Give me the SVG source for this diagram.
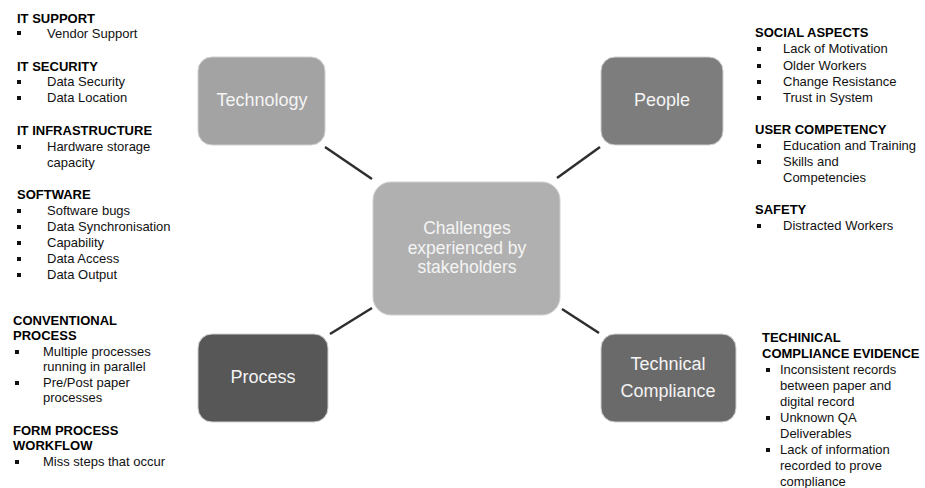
<svg xmlns="http://www.w3.org/2000/svg" width="925" height="488" viewBox="0 0 925 488">
<style>
.bg{fill:#ffffff}
.box{stroke:#d0d0d0;stroke-width:1}
.lbl{font-family:"Liberation Sans",Arial,sans-serif;font-size:18px;fill:#f4f4f4;text-anchor:middle}
.clbl{font-family:"Liberation Sans",Arial,sans-serif;font-size:17.5px;fill:#f4f4f4;text-anchor:middle}
.conn line{stroke:#2e2e2e;stroke-width:2.5}
.h{font-family:"Liberation Sans",Arial,sans-serif;font-size:13px;font-weight:bold;fill:#000}
.t{font-family:"Liberation Sans",Arial,sans-serif;font-size:13px;fill:#111}
.b{fill:#111}
</style>
<defs>
<rect id="bul" width="4" height="4" class="b"/>
</defs>
<rect class="bg" x="0" y="0" width="925" height="488"/>

<g id="connectors" class="conn">
<line x1="325" y1="147" x2="372" y2="179"/>
<line x1="600" y1="147" x2="557" y2="178"/>
<line x1="330" y1="334" x2="372" y2="308"/>
<line x1="562" y1="309" x2="599" y2="333"/>
</g>

<g id="center">
<rect class="box" x="373" y="182" width="187" height="133" rx="18" fill="#b0b0b0"/>
<text class="clbl" x="467" y="234">Challenges</text>
<text class="clbl" x="467" y="254">experienced by</text>
<text class="clbl" x="467" y="273">stakeholders</text>
</g>

<g id="technology">
<rect class="box" x="198" y="57" width="127" height="88" rx="14" fill="#a3a3a3"/>
<text class="lbl" x="262" y="106">Technology</text>
</g>

<g id="people">
<rect class="box" x="601" y="57" width="122" height="88" rx="14" fill="#7d7d7d"/>
<text class="lbl" x="662" y="106">People</text>
</g>

<g id="process">
<rect class="box" x="198" y="334" width="130" height="88" rx="14" fill="#575757"/>
<text class="lbl" x="263" y="383">Process</text>
</g>

<g id="technical-compliance">
<rect class="box" x="601" y="334" width="135" height="88" rx="14" fill="#6a6a6a"/>
<text class="lbl" x="668" y="370">Technical</text>
<text class="lbl" x="668" y="397">Compliance</text>
</g>

<g id="technology-notes">
<text class="h" x="17" y="23">IT SUPPORT</text>
<use href="#bul" x="17" y="31"/><text class="t" x="47" y="38">Vendor Support</text>
<text class="h" x="17" y="71">IT SECURITY</text>
<use href="#bul" x="17" y="80"/><text class="t" x="47" y="86">Data Security</text>
<use href="#bul" x="17" y="96"/><text class="t" x="47" y="102">Data Location</text>
<text class="h" x="17" y="135">IT INFRASTRUCTURE</text>
<use href="#bul" x="17" y="145"/><text class="t" x="47" y="151">Hardware storage</text>
<text class="t" x="47" y="167">capacity</text>
<text class="h" x="17" y="199">SOFTWARE</text>
<use href="#bul" x="17" y="209"/><text class="t" x="47" y="215">Software bugs</text>
<use href="#bul" x="17" y="225"/><text class="t" x="47" y="231">Data Synchronisation</text>
<use href="#bul" x="17" y="241"/><text class="t" x="47" y="247">Capability</text>
<use href="#bul" x="17" y="257"/><text class="t" x="47" y="263">Data Access</text>
<use href="#bul" x="17" y="273"/><text class="t" x="47" y="279">Data Output</text>
</g>

<g id="people-notes">
<text class="h" x="755" y="37">SOCIAL ASPECTS</text>
<use href="#bul" x="757" y="47"/><text class="t" x="783" y="53">Lack of Motivation</text>
<use href="#bul" x="757" y="64"/><text class="t" x="783" y="70">Older Workers</text>
<use href="#bul" x="757" y="80"/><text class="t" x="783" y="86">Change Resistance</text>
<use href="#bul" x="757" y="96"/><text class="t" x="783" y="102">Trust in System</text>
<text class="h" x="755" y="134">USER COMPETENCY</text>
<use href="#bul" x="757" y="144"/><text class="t" x="783" y="150">Education and Training</text>
<use href="#bul" x="757" y="160"/><text class="t" x="783" y="166">Skills and</text>
<text class="t" x="783" y="182">Competencies</text>
<text class="h" x="755" y="214">SAFETY</text>
<use href="#bul" x="757" y="224"/><text class="t" x="783" y="230">Distracted Workers</text>
</g>

<g id="process-notes">
<text class="h" x="13" y="325">CONVENTIONAL</text>
<text class="h" x="13" y="340">PROCESS</text>
<use href="#bul" x="15" y="350"/><text class="t" x="43" y="356">Multiple processes</text>
<text class="t" x="43" y="371">running in parallel</text>
<use href="#bul" x="15" y="381"/><text class="t" x="43" y="387">Pre/Post paper</text>
<text class="t" x="43" y="402">processes</text>
<text class="h" x="13" y="435">FORM PROCESS</text>
<text class="h" x="13" y="450">WORKFLOW</text>
<use href="#bul" x="15" y="460"/><text class="t" x="43" y="466">Miss steps that occur</text>
</g>

<g id="compliance-notes">
<text class="h" x="762" y="342">TECHINICAL</text>
<text class="h" x="762" y="358">COMPLIANCE EVIDENCE</text>
<use href="#bul" x="766" y="368"/><text class="t" x="780" y="374">Inconsistent records</text>
<text class="t" x="780" y="390">between paper and</text>
<text class="t" x="780" y="406">digital record</text>
<use href="#bul" x="766" y="416"/><text class="t" x="780" y="422">Unknown QA</text>
<text class="t" x="780" y="438">Deliverables</text>
<use href="#bul" x="766" y="448"/><text class="t" x="780" y="454">Lack of information</text>
<text class="t" x="780" y="470">recorded to prove</text>
<text class="t" x="780" y="486">compliance</text>
</g>
</svg>
